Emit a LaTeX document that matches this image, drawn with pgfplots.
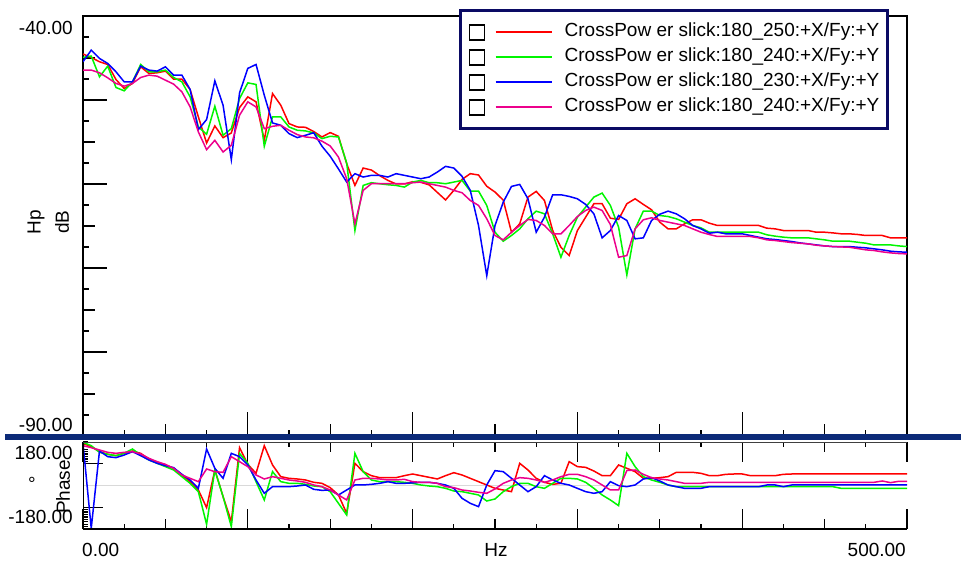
\documentclass[border=0pt]{standalone}
\usepackage{fontspec}
\setmainfont{Liberation Sans}
\usepackage{pgfplots}
\usepackage{pgfplotstable}
\pgfplotsset{compat=1.18}
\definecolor{legnavy}{RGB}{10,10,100}
\definecolor{barnavy}{RGB}{12,42,120}
\definecolor{cgreen}{RGB}{0,245,0}

\pgfplotstableread{
f r g b m
0 -44.53 -44.93 -45.45 -46.44
5 -44.93 -44.77 -44.06 -46.44
10 -45.45 -47.24 -45.05 -46.76
15 -45.77 -45.97 -45.65 -47.36
20 -47.56 -48.51 -46.64 -48.03
25 -48.63 -48.91 -47.84 -48.35
30 -48.03 -47.84 -47.84 -48.03
35 -46.05 -45.77 -45.97 -47.32
40 -46.84 -46.64 -46.44 -47.04
45 -46.76 -46.64 -46.56 -47.16
50 -46.56 -46.44 -46.05 -47.64
55 -47.52 -47.32 -47.04 -48.11
60 -47.52 -47.84 -47.04 -49.03
65 -48.75 -49.63 -48.75 -50.82
70 -52.01 -53.21 -53.52 -53.80
75 -55.12 -54.08 -52.33 -55.91
80 -53.09 -50.74 -47.72 -54.80
85 -54.48 -54.20 -50.62 -56.19
90 -53.92 -53.41 -57.10 -55.39
95 -50.90 -49.83 -49.15 -51.81
100 -49.63 -47.96 -46.24 -50.22
105 -50.22 -48.15 -45.77 -50.82
110 -54.80 -55.51 -49.43 -53.41
115 -49.23 -52.01 -52.73 -53.13
120 -50.62 -52.01 -53.01 -53.01
125 -52.81 -53.21 -54.00 -53.60
130 -53.21 -53.60 -54.48 -54.12
135 -53.25 -53.68 -54.20 -54.40
140 -53.75 -53.92 -53.90 -54.50
145 -54.40 -54.60 -55.50 -54.90
150 -53.88 -54.32 -56.70 -55.47
155 -54.32 -54.40 -58.20 -56.79
160 -57.58 -57.50 -59.77 -59.37
165 -60.17 -65.54 -58.77 -64.74
170 -58.10 -60.17 -59.17 -60.76
175 -58.34 -59.85 -58.97 -59.97
180 -59.00 -59.97 -58.97 -59.97
185 -59.57 -60.09 -59.17 -59.97
190 -60.00 -60.17 -58.77 -59.97
195 -60.00 -60.37 -58.97 -59.97
200 -59.73 -59.77 -59.17 -59.85
205 -59.80 -59.57 -59.37 -59.77
210 -60.10 -59.85 -59.17 -59.97
215 -61.00 -59.85 -58.58 -60.17
220 -61.90 -59.97 -57.90 -60.37
225 -60.76 -59.77 -58.10 -60.76
230 -59.45 -59.57 -59.09 -61.04
235 -58.77 -60.84 -60.76 -61.96
240 -58.93 -60.84 -64.94 -62.55
245 -60.27 -62.55 -70.91 -64.14
250 -60.96 -65.74 -64.94 -66.13
255 -61.92 -66.81 -62.16 -66.65
260 -65.74 -66.13 -60.29 -65.74
265 -64.74 -65.34 -60.05 -64.94
270 -61.56 -64.14 -61.76 -64.22
275 -60.88 -63.23 -65.74 -64.34
280 -61.96 -63.55 -63.95 -64.94
285 -65.54 -65.93 -61.28 -65.93
290 -67.53 -68.72 -61.28 -65.93
295 -68.52 -66.13 -61.48 -64.94
300 -65.54 -63.95 -61.76 -63.87
305 -63.95 -62.75 -62.43 -63.15
310 -62.35 -61.56 -63.55 -62.75
315 -62.35 -61.08 -66.41 -63.15
320 -64.07 -62.55 -65.54 -64.82
325 -64.22 -65.14 -63.75 -68.72
330 -62.35 -70.83 -64.34 -68.52
335 -61.76 -65.34 -66.53 -65.34
340 -62.43 -63.23 -66.41 -64.26
345 -63.07 -63.23 -64.34 -64.02
350 -64.54 -63.75 -63.60 -64.34
355 -65.34 -63.87 -63.23 -64.54
360 -65.34 -64.14 -63.55 -64.74
365 -64.74 -64.54 -64.14 -64.94
370 -64.26 -64.94 -64.94 -65.34
375 -64.26 -65.22 -65.34 -65.74
380 -64.66 -65.74 -65.86 -66.01
385 -64.94 -65.74 -65.74 -66.25
390 -64.94 -65.74 -65.93 -66.25
395 -64.94 -65.74 -65.93 -66.25
400 -64.94 -65.74 -65.93 -66.25
405 -64.94 -65.74 -66.13 -66.25
410 -64.94 -65.74 -66.33 -66.41
415 -65.26 -66.05 -66.53 -66.65
420 -65.34 -66.21 -66.61 -66.73
425 -65.54 -66.33 -66.73 -66.85
430 -65.54 -66.41 -66.85 -66.97
435 -65.54 -66.41 -67.01 -67.05
440 -65.54 -66.41 -67.13 -67.13
445 -65.74 -66.53 -67.25 -67.29
450 -65.74 -66.65 -67.37 -67.37
455 -65.82 -66.81 -67.45 -67.45
460 -65.93 -66.81 -67.45 -67.49
465 -65.93 -66.81 -67.45 -67.53
470 -66.01 -66.93 -67.53 -67.68
475 -66.13 -67.05 -67.60 -67.84
480 -66.13 -67.25 -67.72 -67.92
485 -66.13 -67.25 -67.84 -68.08
490 -66.41 -67.25 -68.00 -68.20
495 -66.41 -67.37 -68.08 -68.28
500 -66.41 -67.45 -68.12 -68.32
}\magtab

\pgfplotstableread{
f r g b m
0 174.5 178.6 174.5 164.8
5 160.7 164.8 -177.1 156.6
10 140.0 137.3 142.8 147.0
15 129.0 129.0 119.3 137.3
20 123.5 123.5 115.2 133.1
25 133.1 133.1 126.2 137.3
30 142.8 151.1 140.0 140.0
35 133.1 126.2 123.5 130.4
40 109.7 105.6 105.6 112.5
45 95.9 91.8 91.8 98.7
50 84.9 78.0 82.1 87.6
55 71.1 64.2 73.8 71.1
60 43.5 36.6 46.3 43.5
65 15.9 9.0 22.8 29.7
70 -18.6 -25.5 -11.7 15.9
75 -91.6 -160.6 151.1 68.3
80 64.2 64.2 71.1 57.3
85 -46.1 -46.1 29.7 54.5
90 -149.6 -170.2 133.1 119.3
95 156.6 133.1 119.3 98.7
100 87.6 91.8 84.9 78.0
105 50.4 15.9 22.8 43.5
110 164.8 -59.9 -32.3 27.0
115 84.9 57.3 -4.8 36.6
120 36.6 15.9 -4.8 29.7
125 29.7 9.0 -4.8 22.8
130 27.0 9.0 -2.0 18.7
135 22.8 4.9 2.1 13.2
140 13.2 -2.0 -15.8 2.1
145 9.0 -5.0 -20.0 -4.8
150 -8.9 -25.5 -18.6 -18.6
155 -39.2 -73.7 -39.2 -39.2
160 -115.1 -122.0 -18.6 -59.9
165 91.8 133.1 2.1 22.8
170 57.3 57.3 2.1 29.7
175 40.7 22.8 4.9 29.7
180 32.5 15.9 9.0 27.0
185 32.5 15.9 15.9 22.8
190 32.5 15.9 9.0 22.8
195 40.7 13.2 9.0 25.6
200 47.6 9.0 11.0 15.9
205 40.7 2.1 13.2 13.2
210 33.8 -2.0 13.2 13.2
215 27.0 -4.8 9.0 9.0
220 40.7 -11.7 2.1 -4.8
225 53.1 -22.7 -11.7 -8.9
230 43.5 -25.5 -53.0 -18.6
235 29.7 -32.3 -73.7 -22.7
240 15.9 -39.2 -87.5 -28.2
245 2.1 -64.1 2.1 -32.3
250 -11.7 -55.8 61.4 -14.4
255 -18.6 -25.5 57.3 9.0
260 -25.5 -4.8 29.7 22.8
265 91.8 9.0 2.1 32.5
270 64.2 9.0 -25.5 29.7
275 29.7 -4.8 -4.8 22.8
280 13.2 -11.7 40.7 13.2
285 4.9 9.0 22.8 22.8
290 9.0 29.7 9.0 36.6
295 98.7 29.7 2.1 46.2
300 78.0 27.0 -11.7 46.2
305 75.2 13.2 -25.5 36.6
310 60.0 -11.7 -32.3 22.8
315 40.7 -39.2 -25.5 2.1
320 40.7 -59.9 15.9 -18.6
325 84.9 -83.4 -0.6 -18.6
330 71.1 133.1 -4.8 62.0
335 57.3 78.0 2.1 64.2
340 29.7 36.6 27.0 46.2
345 29.7 22.8 32.5 32.5
350 32.5 13.2 18.7 27.0
355 36.6 2.1 2.1 22.8
360 54.5 -4.8 -4.8 15.9
365 54.5 -4.8 -11.7 9.0
370 54.5 -4.8 -11.7 9.0
375 50.4 -4.8 -11.7 9.0
380 40.7 -4.8 -4.8 13.2
385 40.7 -4.8 -4.8 13.2
390 46.2 -4.8 -4.8 13.2
395 47.6 -4.8 -4.8 13.2
400 47.6 -4.8 -4.8 13.2
405 40.7 -4.8 -4.8 13.2
410 40.7 -4.8 -4.8 13.2
415 40.7 -4.8 2.1 13.2
420 40.7 -4.8 2.1 13.2
425 46.2 -4.8 -4.8 13.2
430 47.6 -4.8 2.1 13.2
435 47.6 -4.8 2.1 13.2
440 47.6 -4.8 2.1 13.2
445 47.6 -4.8 2.1 13.2
450 47.6 -4.8 2.1 13.2
455 47.6 -4.8 2.1 13.2
460 47.6 -11.7 2.1 13.2
465 47.6 -11.7 2.1 13.2
470 47.6 -11.7 2.1 13.2
475 47.6 -11.7 2.1 13.2
480 47.6 -11.7 2.1 13.2
485 47.6 -11.7 2.1 18.7
490 47.6 -11.7 2.1 11.8
495 47.6 -11.7 2.1 17.3
500 47.6 -11.7 2.1 17.3
}\phtab

\begin{document}
\begin{tikzpicture}[font=\fontsize{19}{22}\selectfont, x=1pt, y=1pt]
\useasboundingbox (0,0) rectangle (961,560);

% ---- phase panel ----
\begin{axis}[
  at={(83pt,31pt)}, anchor=south west,
  scale only axis, width=824pt, height=87pt,
  xmin=0, xmax=500, ymin=-180, ymax=180,
  axis line style={draw=none},
  tick align=inside, ytick pos=left,
  xtick={0,100,200,300,400,500}, ytick={-90,0,90},
  xticklabels={}, yticklabels={},
  minor xtick={25,75,125,175,225,275,325,375,425,475},
  minor ytick={-180,-170,-160,-150,-140,-130,-120,-110,-100,100,110,120,130,140,150,160,170,180},
  major tick length=20pt, minor tick length=5pt,
  tick style={black, line width=1.3pt},
  extra x ticks={50,150,250,350,450}, extra x tick labels={},
  extra tick style={major tick length=10pt},
]
\addplot[gray!30, line width=1pt, forget plot] coordinates {(0,0) (500,0)};
\addplot[red, line width=1.5pt] table[x=f,y=r]{\phtab};
\addplot[cgreen, line width=1.5pt] table[x=f,y=g]{\phtab};
\addplot[blue, line width=1.5pt] table[x=f,y=b]{\phtab};
\addplot[magenta, line width=1.5pt] table[x=f,y=m]{\phtab};
\draw[black, line width=1.3pt] (rel axis cs:0,1) -- (rel axis cs:0,0) -- (rel axis cs:1,0);
\draw[black!75, line width=1.2pt] (rel axis cs:0,1) -- (rel axis cs:1,1);
\end{axis}

% ---- magnitude panel ----
\begin{axis}[
  at={(83pt,124pt)}, anchor=south west,
  scale only axis, width=824pt, height=420pt,
  xmin=0, xmax=500, ymin=-90, ymax=-40,
  axis line style={line width=1.3pt},
  tick align=inside, xtick pos=left, ytick pos=left,
  xtick={0,100,200,300,400,500}, ytick={-90,-80,-70,-60,-50,-40},
  xticklabels={}, yticklabels={},
  minor x tick num=3, minor y tick num=3,
  major tick length=24pt, minor tick length=6pt,
  tick style={black, line width=1.3pt},
  extra x ticks={50,150,250,350,450}, extra y ticks={-85,-75,-65,-55,-45},
  extra x tick labels={}, extra y tick labels={},
  extra tick style={major tick length=12pt},
  legend cell align=left,
  legend style={
    at={(axis description cs:0.4569,1.0155)}, anchor=north west,
    draw=legnavy, line width=3pt, fill=white,
    inner xsep=8pt, inner ysep=13pt,
    row sep=8pt, column sep=12pt,
    font=\fontsize{19}{22}\selectfont,
    nodes={text height=13pt, text depth=4pt, inner sep=0pt},
  },
  legend image code/.code={
    \draw[black, solid, line width=1.4pt, fill=white] (0pt,-7.5pt) rectangle (15pt,7.5pt);
    \draw[#1, line width=2pt] (26pt,0pt) -- (82pt,0pt);
  },
]
\addplot[red, line width=1.5pt] table[x=f,y=r]{\magtab};
\addlegendentry{CrossPow er slick:180\_250:+X/Fy:+Y\hspace{16.5pt}}
\addplot[cgreen, line width=1.5pt] table[x=f,y=g]{\magtab};
\addlegendentry{CrossPow er slick:180\_240:+X/Fy:+Y\hspace{16.5pt}}
\addplot[blue, line width=1.5pt] table[x=f,y=b]{\magtab};
\addlegendentry{CrossPow er slick:180\_230:+X/Fy:+Y\hspace{16.5pt}}
\addplot[magenta, line width=1.5pt] table[x=f,y=m]{\magtab};
\addlegendentry{CrossPow er slick:180\_240:+X/Fy:+Y\hspace{16.5pt}}
\end{axis}

% separator bar
\fill[barnavy] (5,120) rectangle (961,125.7);

% labels
\node[anchor=east, inner sep=0pt] at (73,532) {-40.00};
\node[anchor=east, inner sep=0pt] at (73,135) {-90.00};
\node[rotate=90, inner sep=0pt] at (36,338) {Hp};
\node[rotate=90, inner sep=0pt] at (62,338) {dB};
\node[anchor=east, inner sep=0pt] at (73,107) {180.00};
\node[inner sep=0pt] at (32,76) {°};
\node[rotate=90, inner sep=0pt] at (63,73) {Phase};
\node[anchor=east, inner sep=0pt] at (73,43) {-180.00};
\node[anchor=west, inner sep=0pt] at (82,10) {0.00};
\node[inner sep=0pt] at (496,10) {Hz};
\node[anchor=east, inner sep=0pt] at (906,10) {500.00};
\end{tikzpicture}
\end{document}
